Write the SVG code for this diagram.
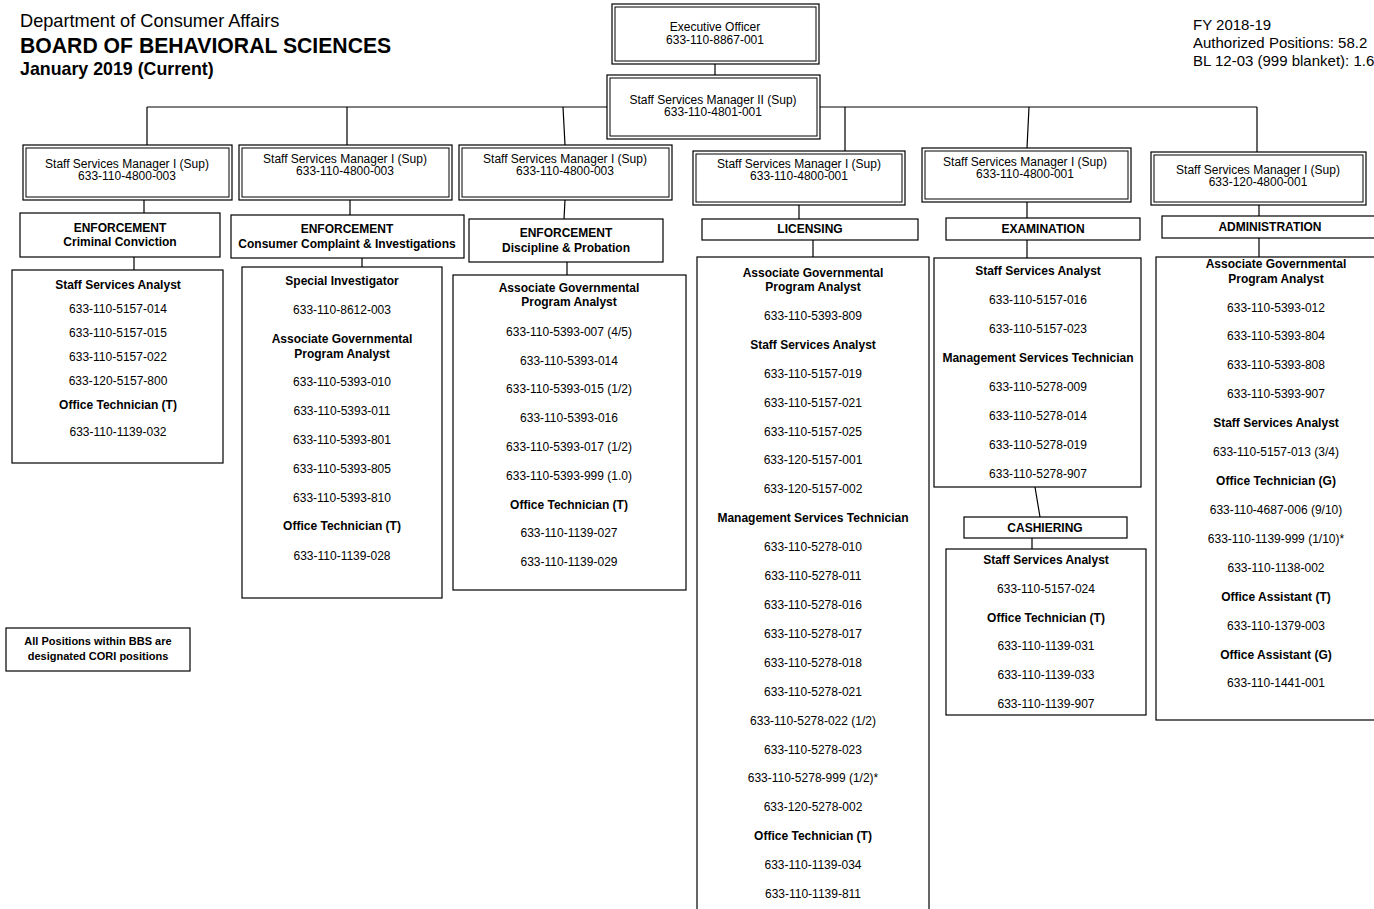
<svg xmlns="http://www.w3.org/2000/svg" width="1374" height="909" viewBox="0 0 1374 909">
<style>
text{font-family:"Liberation Sans",Arial,sans-serif;fill:#000}
.r{font-size:12px;text-anchor:middle}
.b{font-size:12px;font-weight:bold;text-anchor:middle}
.box{fill:#fff;stroke:#000;stroke-width:1.2}
.in{fill:none;stroke:#000;stroke-width:1}
.ln{stroke:#000;stroke-width:1.2;fill:none}
</style>
<rect width="1374" height="909" fill="#fff"/>
<g id="header">
<text x="20" y="27" style="font-size:18.2px">Department of Consumer Affairs</text>
<text x="20" y="53" style="font-size:21.2px;font-weight:bold">BOARD OF BEHAVIORAL SCIENCES</text>
<text x="20" y="75" style="font-size:17.8px;font-weight:bold">January 2019 (Current)</text>
<text x="1193" y="30" style="font-size:15px">FY 2018-19</text>
<text x="1193" y="48" style="font-size:15px">Authorized Positions: 58.2</text>
<text x="1193" y="66" style="font-size:15px">BL 12-03 (999 blanket): 1.6</text>
</g>
<g id="connectors">
<path class="ln" d="M715 64V75"/>
<path class="ln" d="M147 107H607M820 107H1257"/>
<path class="ln" d="M147 107V145M347 107V145M563 107L565 145M845 107V151M1029 107L1027 148M1257 107V153"/>
<path class="ln" d="M144 200V213M134 257V270"/>
<path class="ln" d="M350 200V215M362 258V267"/>
<path class="ln" d="M565 200L564 219M567 262V275"/>
<path class="ln" d="M799 205V219M813 240V257"/>
<path class="ln" d="M1027 202V218M1027 240V258M1035 487L1040 517M1032 538V549"/>
<path class="ln" d="M1259 205V216M1259 238V257"/>
</g>
<g id="exec">
<rect class="box" x="612" y="4" width="207" height="60"/>
<rect class="in" x="615" y="7" width="201" height="54"/>
<text class="r" x="715" y="31">Executive Officer</text>
<text class="r" x="715" y="44">633-110-8867-001</text>
</g>
<g id="ssm2">
<rect class="box" x="607" y="75" width="213" height="64"/>
<rect class="in" x="610" y="78" width="207" height="58"/>
<text class="r" x="713" y="104">Staff Services Manager II (Sup)</text>
<text class="r" x="713" y="116">633-110-4801-001</text>
</g>
<g id="ssm1-a">
<rect class="box" x="23" y="145" width="209" height="55"/>
<rect class="in" x="26" y="148" width="203" height="49"/>
<text class="r" x="127" y="168">Staff Services Manager I (Sup)</text>
<text class="r" x="127" y="180">633-110-4800-003</text>
</g>
<g id="ssm1-b">
<rect class="box" x="239" y="145" width="213" height="55"/>
<rect class="in" x="242" y="148" width="207" height="49"/>
<text class="r" x="345" y="163">Staff Services Manager I (Sup)</text>
<text class="r" x="345" y="175">633-110-4800-003</text>
</g>
<g id="ssm1-c">
<rect class="box" x="459" y="145" width="213" height="55"/>
<rect class="in" x="462" y="148" width="207" height="49"/>
<text class="r" x="565" y="163">Staff Services Manager I (Sup)</text>
<text class="r" x="565" y="175">633-110-4800-003</text>
</g>
<g id="ssm1-d">
<rect class="box" x="693" y="151" width="212" height="54"/>
<rect class="in" x="696" y="154" width="206" height="48"/>
<text class="r" x="799" y="168">Staff Services Manager I (Sup)</text>
<text class="r" x="799" y="180">633-110-4800-001</text>
</g>
<g id="ssm1-e">
<rect class="box" x="922" y="148" width="209" height="54"/>
<rect class="in" x="925" y="151" width="203" height="48"/>
<text class="r" x="1025" y="166">Staff Services Manager I (Sup)</text>
<text class="r" x="1025" y="178">633-110-4800-001</text>
</g>
<g id="ssm1-f">
<rect class="box" x="1151" y="152" width="215" height="53"/>
<rect class="in" x="1154" y="155" width="209" height="47"/>
<text class="r" x="1258" y="174">Staff Services Manager I (Sup)</text>
<text class="r" x="1258" y="186">633-120-4800-001</text>
</g>
<g id="sec-criminal">
<rect class="box" x="20" y="213" width="200" height="44"/>
<text class="b" x="120" y="232">ENFORCEMENT</text>
<text class="b" x="120" y="246">Criminal Conviction</text>
</g>
<g id="sec-complaint">
<rect class="box" x="231" y="215" width="233" height="43"/>
<text class="b" x="347" y="233">ENFORCEMENT</text>
<text class="b" x="347" y="248">Consumer Complaint &amp; Investigations</text>
</g>
<g id="sec-discipline">
<rect class="box" x="469" y="219" width="194" height="43"/>
<text class="b" x="566" y="237">ENFORCEMENT</text>
<text class="b" x="566" y="252">Discipline &amp; Probation</text>
</g>
<g id="sec-licensing">
<rect class="box" x="702" y="219" width="216" height="21"/>
<text class="b" x="810" y="233">LICENSING</text>
</g>
<g id="sec-exam">
<rect class="box" x="946" y="218" width="194" height="22"/>
<text class="b" x="1043" y="233">EXAMINATION</text>
</g>
<g id="sec-admin">
<rect class="box" x="1162" y="216" width="218" height="22"/>
<text class="b" x="1270" y="231">ADMINISTRATION</text>
</g>
<g id="sec-cashiering">
<rect class="box" x="964" y="517" width="163" height="21"/>
<text class="b" x="1045" y="532">CASHIERING</text>
</g>
<g id="pos-criminal">
<rect class="box" x="12" y="270" width="211" height="193"/>
<text class="b" x="118" y="289">Staff Services Analyst</text>
<text class="r" x="118" y="313">633-110-5157-014</text>
<text class="r" x="118" y="337">633-110-5157-015</text>
<text class="r" x="118" y="361">633-110-5157-022</text>
<text class="r" x="118" y="385">633-120-5157-800</text>
<text class="b" x="118" y="409">Office Technician (T)</text>
<text class="r" x="118" y="436">633-110-1139-032</text>
</g>
<g id="pos-complaint">
<rect class="box" x="242" y="267" width="200" height="331"/>
<text class="b" x="342" y="285">Special Investigator</text>
<text class="r" x="342" y="314">633-110-8612-003</text>
<text class="b" x="342" y="343">Associate Governmental</text>
<text class="b" x="342" y="358">Program Analyst</text>
<text class="r" x="342" y="386">633-110-5393-010</text>
<text class="r" x="342" y="415">633-110-5393-011</text>
<text class="r" x="342" y="444">633-110-5393-801</text>
<text class="r" x="342" y="473">633-110-5393-805</text>
<text class="r" x="342" y="502">633-110-5393-810</text>
<text class="b" x="342" y="530">Office Technician (T)</text>
<text class="r" x="342" y="560">633-110-1139-028</text>
</g>
<g id="pos-discipline">
<rect class="box" x="453" y="275" width="233" height="315"/>
<text class="b" x="569" y="292">Associate Governmental</text>
<text class="b" x="569" y="306">Program Analyst</text>
<text class="r" x="569" y="336">633-110-5393-007 (4/5)</text>
<text class="r" x="569" y="365">633-110-5393-014</text>
<text class="r" x="569" y="393">633-110-5393-015 (1/2)</text>
<text class="r" x="569" y="422">633-110-5393-016</text>
<text class="r" x="569" y="451">633-110-5393-017 (1/2)</text>
<text class="r" x="569" y="480">633-110-5393-999 (1.0)</text>
<text class="b" x="569" y="509">Office Technician (T)</text>
<text class="r" x="569" y="537">633-110-1139-027</text>
<text class="r" x="569" y="566">633-110-1139-029</text>
</g>
<g id="pos-licensing">
<rect class="box" x="697" y="257" width="232" height="670"/>
<text class="b" x="813" y="277">Associate Governmental</text>
<text class="b" x="813" y="291">Program Analyst</text>
<text class="r" x="813" y="320">633-110-5393-809</text>
<text class="b" x="813" y="349">Staff Services Analyst</text>
<text class="r" x="813" y="378">633-110-5157-019</text>
<text class="r" x="813" y="407">633-110-5157-021</text>
<text class="r" x="813" y="436">633-110-5157-025</text>
<text class="r" x="813" y="464">633-120-5157-001</text>
<text class="r" x="813" y="493">633-120-5157-002</text>
<text class="b" x="813" y="522">Management Services Technician</text>
<text class="r" x="813" y="551">633-110-5278-010</text>
<text class="r" x="813" y="580">633-110-5278-011</text>
<text class="r" x="813" y="609">633-110-5278-016</text>
<text class="r" x="813" y="638">633-110-5278-017</text>
<text class="r" x="813" y="667">633-110-5278-018</text>
<text class="r" x="813" y="696">633-110-5278-021</text>
<text class="r" x="813" y="725">633-110-5278-022 (1/2)</text>
<text class="r" x="813" y="754">633-110-5278-023</text>
<text class="r" x="813" y="782">633-110-5278-999 (1/2)*</text>
<text class="r" x="813" y="811">633-120-5278-002</text>
<text class="b" x="813" y="840">Office Technician (T)</text>
<text class="r" x="813" y="869">633-110-1139-034</text>
<text class="r" x="813" y="898">633-110-1139-811</text>
</g>
<g id="pos-exam">
<rect class="box" x="934" y="258" width="207" height="229"/>
<text class="b" x="1038" y="275">Staff Services Analyst</text>
<text class="r" x="1038" y="304">633-110-5157-016</text>
<text class="r" x="1038" y="333">633-110-5157-023</text>
<text class="b" x="1038" y="362">Management Services Technician</text>
<text class="r" x="1038" y="391">633-110-5278-009</text>
<text class="r" x="1038" y="420">633-110-5278-014</text>
<text class="r" x="1038" y="449">633-110-5278-019</text>
<text class="r" x="1038" y="478">633-110-5278-907</text>
</g>
<g id="pos-cashiering">
<rect class="box" x="946" y="549" width="200" height="166"/>
<text class="b" x="1046" y="564">Staff Services Analyst</text>
<text class="r" x="1046" y="593">633-110-5157-024</text>
<text class="b" x="1046" y="622">Office Technician (T)</text>
<text class="r" x="1046" y="650">633-110-1139-031</text>
<text class="r" x="1046" y="679">633-110-1139-033</text>
<text class="r" x="1046" y="708">633-110-1139-907</text>
</g>
<g id="pos-admin">
<rect class="box" x="1156" y="257" width="240" height="463"/>
<text class="b" x="1276" y="268">Associate Governmental</text>
<text class="b" x="1276" y="283">Program Analyst</text>
<text class="r" x="1276" y="312">633-110-5393-012</text>
<text class="r" x="1276" y="340">633-110-5393-804</text>
<text class="r" x="1276" y="369">633-110-5393-808</text>
<text class="r" x="1276" y="398">633-110-5393-907</text>
<text class="b" x="1276" y="427">Staff Services Analyst</text>
<text class="r" x="1276" y="456">633-110-5157-013 (3/4)</text>
<text class="b" x="1276" y="485">Office Technician (G)</text>
<text class="r" x="1276" y="514">633-110-4687-006 (9/10)</text>
<text class="r" x="1276" y="543">633-110-1139-999 (1/10)*</text>
<text class="r" x="1276" y="572">633-110-1138-002</text>
<text class="b" x="1276" y="601">Office Assistant (T)</text>
<text class="r" x="1276" y="630">633-110-1379-003</text>
<text class="b" x="1276" y="659">Office Assistant (G)</text>
<text class="r" x="1276" y="687">633-110-1441-001</text>
</g>
<g id="note">
<rect class="box" x="6" y="628" width="184" height="43"/>
<text class="b" x="98" y="645" style="font-size:11px">All Positions within BBS are</text>
<text class="b" x="98" y="660" style="font-size:11px">designated CORI positions</text>
</g>
</svg>
